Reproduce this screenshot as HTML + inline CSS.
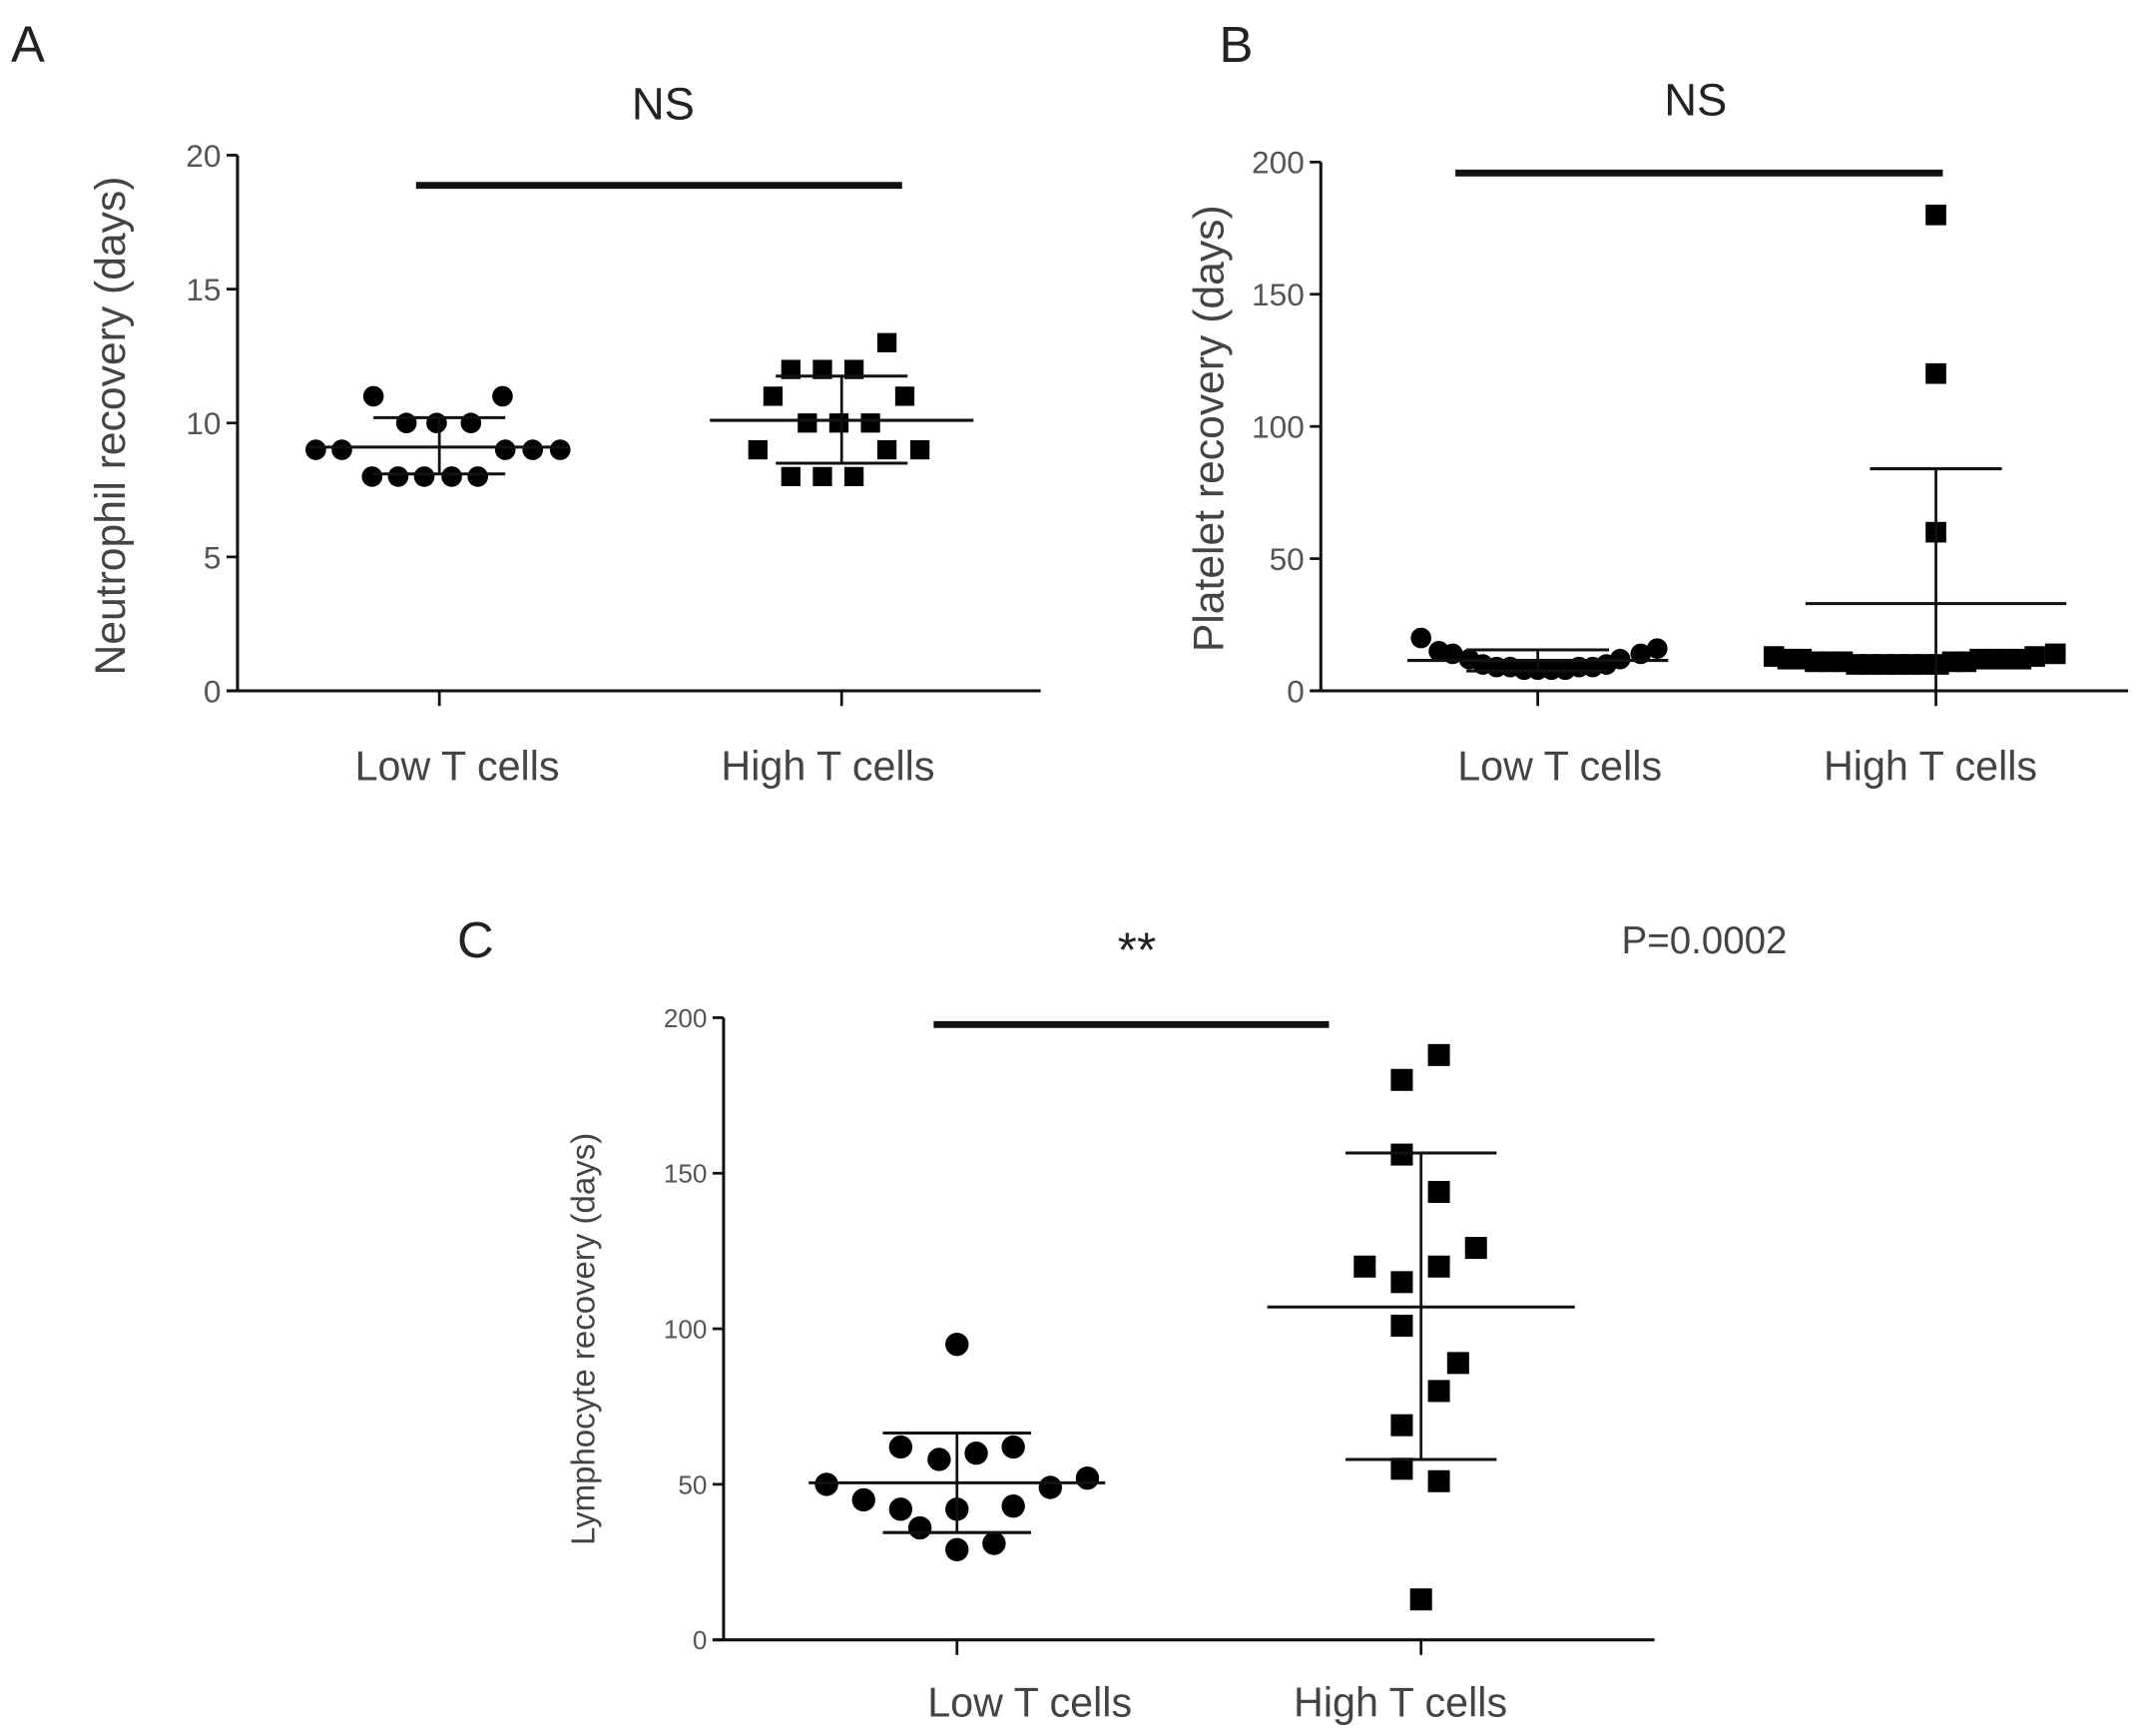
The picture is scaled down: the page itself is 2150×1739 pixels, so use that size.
<!DOCTYPE html>
<html><head><meta charset="utf-8"><style>
html,body{margin:0;padding:0;background:#fff;}
svg{display:block;font-family:"Liberation Sans",sans-serif;}
</style></head><body>
<svg id="fig" width="2150" height="1739" viewBox="0 0 1563 1264" preserveAspectRatio="none" xmlns="http://www.w3.org/2000/svg">
<text x="8" y="45" font-size="37" fill="#222">A</text>
<text x="888" y="45" font-size="37" fill="#222">B</text>
<text x="333" y="697" font-size="37" fill="#222">C</text>
</svg>
<script>
// Panel A data
const catsA = ["Low T cells","High T cells"];
const lowA = [11,11,10,10,10,9,9,9,9,9,8,8,8,8,8];
const lowAx = [-48,46,-24,-2,23,-90,-71,48,68,88,-49,-30,-11,9,28];
const highA = [13,12,12,12,11,11,10,10,10,9,9,9,8,8,8];
const highAx = [33,-37,-14,9,-50,46,-25,-2,21,-61,33,57,-37,-14,9];
const statsA = [[9.1,10.2,8.1],[10.1,11.75,8.5]];
const ticksA = [0,5,10,15,20];
// Panel B data
const catsB = ["Low T cells","High T cells"];
const lowB = [20,15,14,12,10,9,9,8,8,8,8,9,9,10,12,14,16];
const lowBx = [-85,-72,-62,-50,-40,-30,-20,-10,0,10,20,30,40,50,60,75,87];
const highB = [180,120,60,13,12,12,11,11,11,10,10,10,10,10,10,10,11,11,12,12,12,12,13,14];
const highBx = [0,0,0,-118,-108,-98,-88,-78,-68,-58,-48,-38,-28,-18,-8,2,12,22,32,42,52,62,72,87];
const statsB = [[11.5,15.5,7.5],[33,84,-18]];
const ticksB = [0,50,100,150,200];
// Panel C data
const catsC = ["Low T cells","High T cells"];
const lowC = [95,62,62,60,58,50,52,49,45,42,42,43,36,31,29];
const lowCx = [0,-41,41,14,-13,-95,95,68,-68,-41,0,41,-27,27,0];
const highC = [188,180,156,144,126,120,120,115,101,89,80,69,55,51,13];
const highCx = [13,-14,-14,13,40,-41,13,-14,-14,27,13,-14,-14,13,0];
const statsC = [[50.5,66.5,34.5],[107,156.5,58]];
const ticksC = [0,50,100,150,200];

const NS="http://www.w3.org/2000/svg";
const svg=document.getElementById('fig');
function mk(tag,attrs,txt){const e=document.createElementNS(NS,tag);for(const k in attrs)e.setAttribute(k,attrs[k]);if(txt!==undefined)e.textContent=txt;svg.appendChild(e);return e;}
function line(x1,y1,x2,y2,w,name){const e=mk('line',{x1:x1,y1:y1,x2:x2,y2:y2,stroke:'#111','stroke-width':w});

return e;}

function panel(p){
  const y=v=>p.y0+(v-p.vmin)/(p.vmax-p.vmin)*(p.y1-p.y0);
  line(p.ax,p.y1,p.ax,p.y0,2.2,'y-axis');
  line(p.ax-8,p.y0,p.xend,p.y0,2.2,'x-axis');
  p.ticks.forEach(t=>{
    line(p.ax-8,y(t),p.ax,y(t),2,'y-tick');
    const tx=mk('text',{x:p.ax-12,y:y(t)+p.tfs*0.36,'font-size':p.tfs,'text-anchor':'end',fill:'#555'},String(t));
    
    
  });
  p.cx.forEach((cx,i)=>{
    line(cx,p.y0,cx,p.y0+11,2,'x-tick');
    const tx=mk('text',{x:p.lx[i],y:p.ly,'font-size':p.cfs,'text-anchor':'middle',fill:'#444'},p.cats[i]);
    
    
  });
  const yl=mk('text',{x:0,y:0,'font-size':p.yfs,'text-anchor':'middle',fill:'#444',transform:`translate(${p.ylx},${p.yly}) rotate(-90)`},p.ylabel);
  
  
  line(p.sig[0],p.sig[2],p.sig[1],p.sig[2],5,'significance-bar');
  p.low.forEach((v,i)=>{const c=mk('circle',{cx:p.cx[0]+p.lowx[i],cy:y(v),r:p.r,fill:'#000'});
    
    });
  p.high.forEach((v,i)=>{const s=p.sq;const c=mk('rect',{x:p.cx[1]+p.highx[i]-s/2,y:y(v)-s/2,width:s,height:s,fill:'#000'});
    
    });
  p.stats.forEach((st,i)=>{
    const cx=p.cx[i];
    line(cx-p.mw[i],y(st[0]),cx+p.mw[i],y(st[0]),2.2,'mean-line');
    const top=y(st[1]);
    line(cx-p.sw[i],top,cx+p.sw[i],top,2.2,'sd-upper');
    if(y(st[2])<=p.y0) line(cx-p.sw[i],y(st[2]),cx+p.sw[i],y(st[2]),2.2,'sd-lower');
    line(cx,top,cx,Math.min(p.y0,y(st[2])),2,'error-bar');
  });
}
panel({ax:173,y0:503,y1:113,vmin:0,vmax:20,xend:758,ticks:ticksA,tfs:23,cx:[320,613],cats:catsA,lx:[333,603],ly:568,cfs:30,
 ylabel:'Neutrophil recovery (days)',ylx:91,yly:310,yfs:31,sig:[303,657,135],low:lowA,lowx:lowAx,high:highA,highx:highAx,r:7.5,sq:14,
 stats:statsA,mw:[95,96],sw:[48,48]});
panel({ax:962,y0:503,y1:118,vmin:0,vmax:200,xend:1550,ticks:ticksB,tfs:23,cx:[1120,1410],cats:catsB,lx:[1136,1406],ly:568,cfs:30,
 ylabel:'Platelet recovery (days)',ylx:891,yly:312,yfs:31,sig:[1060,1415,126],low:lowB,lowx:lowBx,high:highB,highx:highBx,r:7.5,sq:15,
 stats:statsB,mw:[95,95],sw:[52,48]});
panel({ax:527,y0:1194,y1:741,vmin:0,vmax:200,xend:1205,ticks:ticksC,tfs:19,cx:[697,1035],cats:catsC,lx:[750,1020],ly:1250,cfs:30,
 ylabel:'Lymphocyte recovery (days)',ylx:433,yly:975,yfs:24,sig:[680,968,746],low:lowC,lowx:lowCx,high:highC,highx:highCx,r:8.5,sq:16,
 stats:statsC,mw:[108,112],sw:[54,55]});

let t=mk('text',{x:483,y:87,'font-size':33,'text-anchor':'middle',fill:'#222'},'NS');


t=mk('text',{x:1235,y:84,'font-size':33,'text-anchor':'middle',fill:'#222'},'NS');


t=mk('text',{x:828,y:704,'font-size':36,'text-anchor':'middle',fill:'#222'},'**');


t=mk('text',{x:1181,y:694,'font-size':28,fill:'#444'},'P=0.0002');


</script>
</body></html>
